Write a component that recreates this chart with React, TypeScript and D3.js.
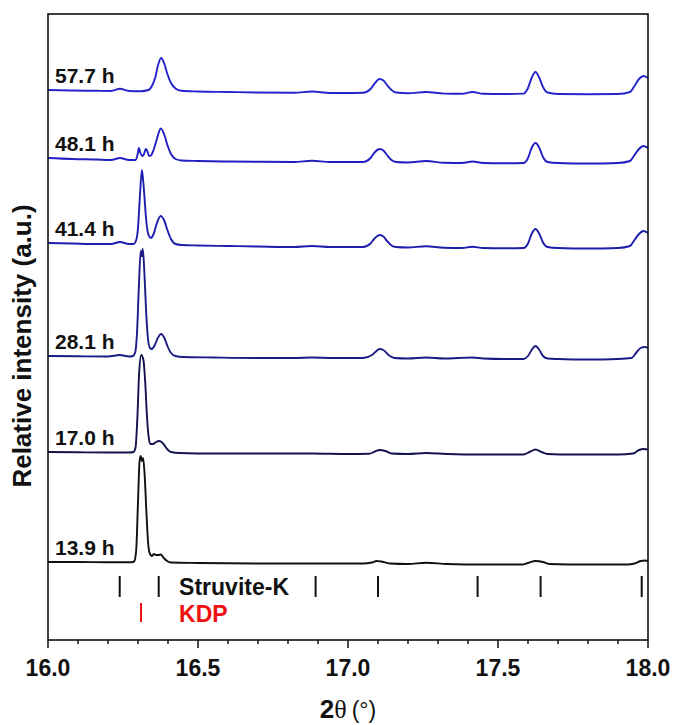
import React from "react";
import * as d3 from "d3";

// ---- data (2θ in degrees, intensity in a.u. relative to each pattern's own baseline) ----
const sampleLabels = ["13.9 h", "17.0 h", "28.1 h", "41.4 h", "48.1 h", "57.7 h"];
const sampleOffsets = [78, 188, 284, 397, 482, 550];
const sampleColors = ["#111111", "#13134e", "#1b1b86", "#1d1dae", "#2020c2", "#2424cc"];

const pattern13_9: [number, number][] = [
  [16.0, 0], [16.1, 0], [16.2, -0.3], [16.28, -0.3], [16.288, 1], [16.294, 12], [16.3, 60],
  [16.305, 100], [16.309, 106], [16.313, 101], [16.317, 104], [16.322, 88], [16.328, 50],
  [16.334, 18], [16.34, 8], [16.347, 6], [16.353, 8], [16.36, 7], [16.368, 7], [16.376, 7.5],
  [16.386, 4], [16.397, 1], [16.41, -0.5], [16.5, -1], [16.7, -1.5], [16.9, -1.5], [17.05, -1.5],
  [17.08, -0.5], [17.095, 1], [17.11, 0.5], [17.14, -1.5], [17.2, -2], [17.26, -0.8], [17.33, -2],
  [17.45, -2.5], [17.58, -2.5], [17.6, -1], [17.625, 1], [17.65, 0], [17.67, -2], [17.8, -2.5],
  [17.93, -2.5], [17.955, -1.5], [17.975, 1], [17.99, 1.5], [18.0, 1],
];

const pattern17_0: [number, number][] = [
  [16.0, 0], [16.1, -0.3], [16.2, -0.5], [16.27, -0.5], [16.285, 0], [16.292, 5], [16.298, 35],
  [16.304, 80], [16.311, 97], [16.318, 92], [16.324, 70], [16.33, 35], [16.336, 14], [16.342, 8],
  [16.35, 8], [16.36, 10], [16.372, 11], [16.385, 8], [16.397, 3], [16.41, 0], [16.44, -1],
  [16.55, -1.5], [16.7, -1.5], [16.88, -1.5], [17.0, -2], [17.07, -1.8], [17.09, 0.5], [17.105, 2],
  [17.125, 1], [17.145, -1.5], [17.2, -2], [17.26, -1], [17.33, -2], [17.45, -2.5], [17.585, -2.5],
  [17.605, 0], [17.625, 2.5], [17.645, 0], [17.665, -2], [17.75, -2.5], [17.9, -2.5], [17.95, -1.5],
  [17.97, 2], [17.985, 3], [18.0, 2.5],
];

const pattern28_1: [number, number][] = [
  [16.0, 0], [16.1, -0.3], [16.2, -0.5], [16.24, 1], [16.27, -0.5], [16.283, 0], [16.291, 4],
  [16.297, 25], [16.303, 70], [16.309, 105], [16.3125, 100], [16.316, 107], [16.321, 85],
  [16.327, 45], [16.333, 18], [16.34, 8], [16.346, 7], [16.356, 11], [16.366, 18], [16.377, 22],
  [16.388, 18], [16.398, 10], [16.41, 3], [16.425, 0], [16.45, -1], [16.55, -1.5], [16.7, -2],
  [16.82, -2], [16.88, -1.5], [16.95, -2], [17.05, -2], [17.08, 1], [17.095, 5], [17.105, 7],
  [17.118, 6], [17.135, 1], [17.155, -2], [17.2, -2.5], [17.26, -1.5], [17.32, -2.5], [17.415, -1.5],
  [17.45, -2.5], [17.52, -3], [17.585, -3], [17.6, 0], [17.612, 6], [17.625, 10], [17.638, 6],
  [17.65, 0], [17.665, -2.5], [17.7, -3], [17.8, -3.5], [17.9, -3], [17.945, -2], [17.96, 3],
  [17.975, 8], [17.99, 9], [18.0, 8],
];

const pattern41_4: [number, number][] = [
  [16.0, 0], [16.08, -0.5], [16.16, -1], [16.21, -1], [16.24, 1], [16.27, -1], [16.285, -1],
  [16.293, 2], [16.3, 15], [16.306, 45], [16.313, 73], [16.32, 52], [16.327, 24], [16.334, 9],
  [16.343, 5], [16.352, 9], [16.363, 20], [16.376, 27], [16.388, 22], [16.398, 13], [16.41, 4],
  [16.425, -1], [16.445, -2], [16.5, -2.5], [16.6, -3], [16.7, -3.5], [16.82, -4], [16.88, -3],
  [16.94, -4], [17.0, -4], [17.05, -4], [17.075, -0.5], [17.09, 5], [17.105, 8], [17.118, 6.5],
  [17.13, 2], [17.145, -2.5], [17.16, -4], [17.2, -4.5], [17.26, -3.2], [17.32, -4.8], [17.38, -5],
  [17.415, -3.8], [17.45, -5], [17.52, -5.2], [17.585, -5], [17.6, -0.5], [17.612, 9], [17.625, 14],
  [17.638, 9], [17.65, 0.5], [17.665, -4], [17.7, -5], [17.8, -5.5], [17.9, -5], [17.94, -3],
  [17.955, 3], [17.97, 9], [17.985, 12], [18.0, 10],
];

const pattern48_1: [number, number][] = [
  [16.0, 0], [16.08, -1], [16.16, -1.5], [16.21, -2], [16.24, 0], [16.27, -2], [16.292, -2],
  [16.299, 4], [16.303, 10], [16.308, 5], [16.314, 2], [16.32, 4], [16.326, 9], [16.331, 7],
  [16.337, 2], [16.343, 2.5], [16.352, 8], [16.362, 18], [16.376, 29.5], [16.388, 23], [16.398, 13],
  [16.41, 4], [16.425, -1], [16.445, -2.5], [16.5, -3], [16.6, -3.5], [16.7, -3.8], [16.82, -4],
  [16.88, -2.8], [16.94, -4], [17.0, -4], [17.05, -4], [17.075, 0], [17.09, 6], [17.105, 9],
  [17.118, 7.5], [17.13, 3], [17.145, -2], [17.16, -4], [17.2, -4.5], [17.26, -3], [17.32, -4.8],
  [17.38, -5], [17.415, -3.5], [17.45, -5], [17.52, -5.2], [17.585, -5], [17.6, 0], [17.612, 10],
  [17.625, 15], [17.638, 10], [17.65, 1], [17.665, -4], [17.7, -5], [17.8, -5.5], [17.9, -5],
  [17.94, -3], [17.955, 3], [17.97, 9], [17.985, 12], [18.0, 10],
];

const pattern57_7: [number, number][] = [
  [16.0, 0], [16.08, -0.5], [16.16, -0.8], [16.21, -1], [16.24, 1.2], [16.27, -1], [16.31, -1.2],
  [16.335, 0], [16.348, 5], [16.358, 13], [16.367, 25], [16.377, 32], [16.388, 26], [16.398, 16],
  [16.41, 7], [16.425, 1.5], [16.445, -0.8], [16.5, -1.5], [16.6, -2], [16.7, -2.5], [16.82, -2.8],
  [16.88, -1.5], [16.94, -3], [17.0, -3], [17.05, -2.8], [17.075, 1], [17.09, 7], [17.105, 11],
  [17.118, 9.5], [17.13, 5], [17.145, 0], [17.16, -2.5], [17.2, -3.2], [17.26, -2], [17.32, -3.6],
  [17.38, -3.8], [17.415, -2], [17.45, -3.8], [17.52, -4], [17.585, -3.6], [17.6, 2], [17.612, 12],
  [17.625, 18], [17.638, 12], [17.65, 3], [17.665, -2.5], [17.7, -4], [17.8, -4.2], [17.9, -4],
  [17.94, -2], [17.955, 4], [17.97, 11], [17.985, 14], [18.0, 12],
];

const patterns = [pattern13_9, pattern17_0, pattern28_1, pattern41_4, pattern48_1, pattern57_7];

const struviteK = [16.239, 16.369, 16.892, 17.1, 17.432, 17.642, 17.979];
const kdp = [16.31];

const xMajorTicks = [16.0, 16.5, 17.0, 17.5, 18.0];
const xDomain: [number, number] = [16.0, 18.0];
const yDomain: [number, number] = [0, 626];

export default function App() {
  const W = 673;
  const H = 725;
  const m = { left: 48, right: 25, top: 14, bottom: 85 };
  const x = d3.scaleLinear().domain(xDomain).range([m.left, W - m.right]);
  const y = d3.scaleLinear().domain(yDomain).range([H - m.bottom, m.top]);

  const minorTicks = d3.range(0, 21).map((i) => xDomain[0] + i * 0.1);
  const font = "Arial, 'Liberation Sans', Helvetica, sans-serif";

  return (
    <svg
      width={W}
      height={H}
      style={{ position: "absolute", left: 0, top: 0, background: "#fff" }}
      fontFamily={font}
    >
      <defs>
        <clipPath id="plotClip">
          <rect x={m.left} y={m.top} width={W - m.left - m.right} height={H - m.top - m.bottom} />
        </clipPath>
      </defs>

      {/* traces */}
      <g clipPath="url(#plotClip)">
        {patterns.map((pts, i) => {
          const line = d3
            .line<[number, number]>()
            .x((d) => x(d[0]))
            .y((d) => y(d[1] + sampleOffsets[i]))
            .curve(d3.curveMonotoneX);
          return (
            <path
              key={i}
              d={line(pts) || ""}
              fill="none"
              stroke={sampleColors[i]}
              strokeWidth={1.9}
              strokeLinejoin="round"
            />
          );
        })}
      </g>

      {/* sample labels */}
      {sampleLabels.map((lab, i) => (
        <text
          key={lab}
          x={x(16.0) + 7}
          y={y(sampleOffsets[i]) - 7}
          fontSize={21}
          fontWeight="bold"
          fill="#111"
        >
          {lab}
        </text>
      ))}

      {/* reference markers */}
      {struviteK.map((p, i) => (
        <line key={"s" + i} x1={x(p)} x2={x(p)} y1={y(64)} y2={y(43)} stroke="#111" strokeWidth={2} />
      ))}
      {kdp.map((p, i) => (
        <line key={"k" + i} x1={x(p)} x2={x(p)} y1={y(37)} y2={y(18)} stroke="#ee1111" strokeWidth={2} />
      ))}
      <text x={x(16.437)} y={y(45)} fontSize={23} fontWeight="bold" fill="#111">
        Struvite-K
      </text>
      <text x={x(16.437)} y={y(18)} fontSize={23} fontWeight="bold" fill="#ee1111">
        KDP
      </text>

      {/* frame */}
      <rect
        x={m.left}
        y={m.top}
        width={W - m.left - m.right}
        height={H - m.top - m.bottom}
        fill="none"
        stroke="#111"
        strokeWidth={1.6}
      />

      {/* x ticks (outward) */}
      {minorTicks.map((t, i) => (
        <line
          key={"t" + i}
          x1={x(t)}
          x2={x(t)}
          y1={H - m.bottom}
          y2={H - m.bottom + (i % 5 === 0 ? 8 : 4)}
          stroke="#111"
          strokeWidth={1.5}
        />
      ))}
      {xMajorTicks.map((t) => (
        <text
          key={"l" + t}
          x={x(t)}
          y={H - m.bottom + 36}
          textAnchor="middle"
          fontSize={23}
          fontWeight="bold"
          fill="#111"
        >
          {d3.format(".1f")(t)}
        </text>
      ))}

      {/* axis titles */}
      <text x={x(17.0)} y={718} textAnchor="middle" fill="#111">
        <tspan fontSize={26} fontWeight="bold">2</tspan>
        <tspan fontSize={26} fontFamily="'Liberation Serif', 'Times New Roman', serif">θ</tspan>
        <tspan fontSize={23} dx={5}>(°)</tspan>
      </text>
      <text
        transform={`translate(31, 346) rotate(-90)`}
        textAnchor="middle"
        fontSize={26}
        fontWeight="bold"
        fill="#111"
      >
        Relative intensity (a.u.)
      </text>
    </svg>
  );
}
